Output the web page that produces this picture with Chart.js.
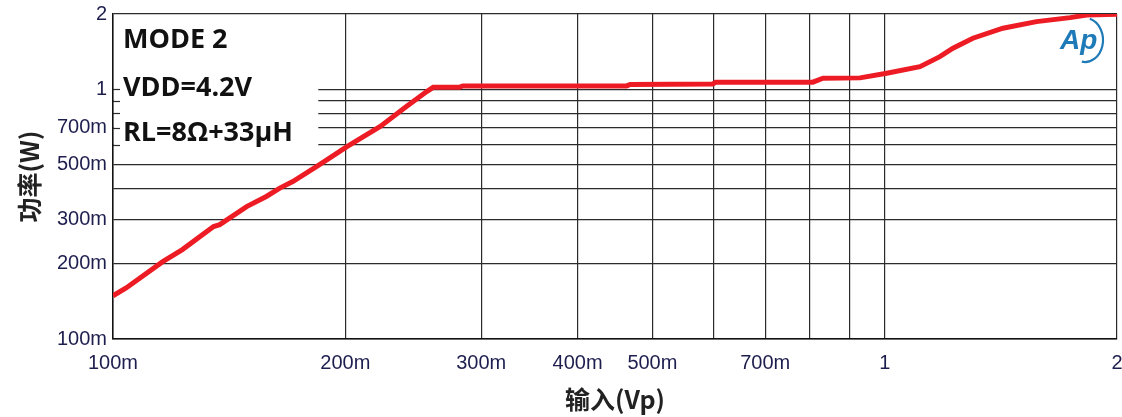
<!DOCTYPE html>
<html>
<head>
<meta charset="utf-8">
<script src="https://cdn.jsdelivr.net/npm/chart.js@4.4.0/dist/chart.umd.min.js"></script>
<style>
  html, body { margin: 0; padding: 0; background: #fff; }
</style>
</head>
<body>
<canvas id="chart" width="1122" height="417"></canvas>
<script>
// 输入 (Vp) vs 功率 (W)
const inputVp = [0.100, 0.104, 0.116, 0.123, 0.135, 0.1375, 0.149, 0.158, 0.1645, 0.171,
  0.185, 0.201, 0.222, 0.240, 0.255, 0.260, 0.281, 0.284, 0.463, 0.468,
  0.599, 0.604, 0.807, 0.832, 0.929, 1.006, 1.111, 1.179, 1.226, 1.301,
  1.423, 1.573, 1.739, 1.827, 2.0];
const powerW = [0.149, 0.160, 0.204, 0.228, 0.282, 0.287, 0.339, 0.372, 0.402, 0.427,
  0.498, 0.589, 0.709, 0.852, 0.978, 1.017, 1.017, 1.031, 1.031, 1.045,
  1.050, 1.067, 1.067, 1.107, 1.110, 1.159, 1.231, 1.350, 1.459, 1.600,
  1.754, 1.864, 1.934, 1.983, 1.994];

const xTickValues = [0.1, 0.2, 0.3, 0.4, 0.5, 0.6, 0.7, 0.8, 0.9, 1, 2];
const xTickText = ["100m", "200m", "300m", "400m", "500m", "", "700m", "", "", "1", "2"];
const yTickValues = [0.1, 0.2, 0.3, 0.4, 0.5, 0.6, 0.7, 0.8, 0.9, 1, 2];
const yTickText = ["100m", "200m", "300m", "", "500m", "", "700m", "", "", "1", "2"];

const notes = ["MODE 2", "VDD=4.2V", "RL=8Ω+33μH"];

const tickColor = "#1e1e4e";
const gridColor = "#2b2b2b";

function noEdgePadding(s) {
  s.paddingLeft = 0;
  s.paddingRight = 0;
  s.paddingTop = 0;
  s.paddingBottom = 0;
}

// white panel behind the notes, with short ticks on the left edge
const noteBox = {
  id: "noteBox",
  beforeDatasetsDraw(chart) {
    const { ctx, chartArea, scales } = chart;
    const right = scales.x.getPixelForValue(0.2) - 27;
    const bottom = scales.y.getPixelForValue(0.55);
    ctx.save();
    ctx.fillStyle = "#fff";
    ctx.fillRect(chartArea.left + 1, chartArea.top + 1, right - chartArea.left - 1, bottom - chartArea.top);
    ctx.strokeStyle = gridColor;
    ctx.lineWidth = 1.2;
    yTickValues.filter((v) => v >= 0.6 && v <= 1).forEach((v) => {
      const y = Math.round(scales.y.getPixelForValue(v)) + 0.5;
      ctx.beginPath();
      ctx.moveTo(chartArea.left, y);
      ctx.lineTo(chartArea.left + 7, y);
      ctx.stroke();
    });
    ctx.restore();
  },
  afterDraw(chart) {
    const { ctx, chartArea } = chart;
    ctx.save();
    ctx.fillStyle = "#111";
    ctx.font = "bold 27px 'Open Sans', 'DejaVu Sans', sans-serif";
    ctx.textBaseline = "middle";
    ctx.textAlign = "left";
    const x0 = chartArea.left + 10;
    [40, 88, 133].forEach((y, i) => ctx.fillText(notes[i], x0, y));

    // Ap logo
    ctx.fillStyle = "#1f7ab8";
    ctx.strokeStyle = "#1f7ab8";
    ctx.font = "italic bold 28px 'Liberation Sans', Arial, sans-serif";
    ctx.fillText("Ap", 1060, 41);
    ctx.lineWidth = 2.2;
    ctx.beginPath();
    ctx.ellipse(1085, 40, 18, 22, 0, -1.3, 1.75);
    ctx.stroke();
    ctx.restore();
  },
};

new Chart(document.getElementById("chart"), {
  type: "line",
  data: {
    datasets: [{
      data: inputVp.map((x, i) => ({ x, y: powerW[i] })),
      borderColor: "#ed1c24",
      borderWidth: 5,
      pointRadius: 0,
      tension: 0,
      fill: false,
    }],
  },
  options: {
    responsive: false,
    animation: false,
    layout: { padding: { top: 14, right: 5, left: 0, bottom: 0 } },
    plugins: { legend: { display: false }, tooltip: { enabled: false } },
    scales: {
      x: {
        type: "logarithmic",
        min: 0.1,
        max: 2,
        afterBuildTicks: (s) => { s.ticks = xTickValues.map((v) => ({ value: v })); },
        afterFit: (s) => { s.height = 78; noEdgePadding(s); },
        grid: { color: gridColor, lineWidth: 1.2, drawTicks: false },
        border: { color: "#111", width: 1.5 },
        ticks: {
          autoSkip: false,
          maxRotation: 0,
          padding: 12,
          color: tickColor,
          font: { family: "'Liberation Sans', Arial, sans-serif", size: 20 },
          callback: (v, i) => xTickText[i],
        },
        title: {
          display: true,
          text: "输入(Vp)",
          color: "#222",
          font: { family: "'Noto Sans CJK SC', sans-serif", size: 25, weight: "bold" },
          padding: { top: 0, bottom: 3 },
        },
      },
      y: {
        type: "logarithmic",
        min: 0.1,
        max: 2,
        afterBuildTicks: (s) => { s.ticks = yTickValues.map((v) => ({ value: v })); },
        afterFit: (s) => { s.width = 113; noEdgePadding(s); },
        grid: { color: gridColor, lineWidth: 1.2, drawTicks: false },
        border: { color: "#111", width: 1.5 },
        ticks: {
          autoSkip: false,
          padding: 6,
          color: tickColor,
          font: { family: "'Liberation Sans', Arial, sans-serif", size: 20 },
          callback: (v, i) => yTickText[i],
        },
        title: {
          display: true,
          text: "功率(W)",
          color: "#222",
          font: { family: "'Noto Sans CJK SC', sans-serif", size: 25, weight: "bold" },
          padding: { top: 14, bottom: 0 },
        },
      },
    },
  },
  plugins: [noteBox],
});
</script>
</body>
</html>
